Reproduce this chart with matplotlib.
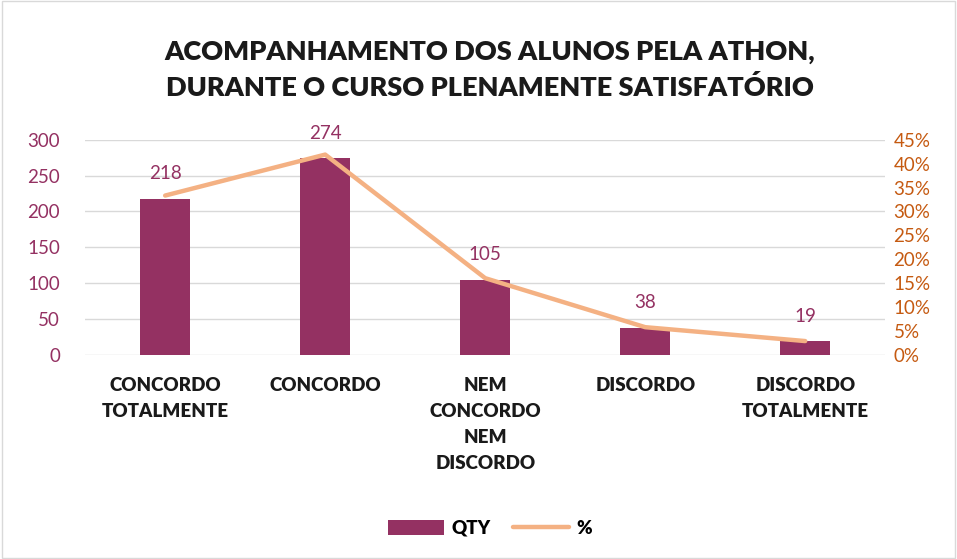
import matplotlib.pyplot as plt
from matplotlib.ticker import PercentFormatter
from matplotlib.patches import Rectangle

categorias = ['CONCORDO\nTOTALMENTE', 'CONCORDO', 'NEM\nCONCORDO\nNEM\nDISCORDO',
              'DISCORDO', 'DISCORDO\nTOTALMENTE']
qty = [218, 274, 105, 38, 19]
total = sum(qty)
pct = [q / total for q in qty]

cor_barra = '#943162'
cor_linha = '#F4B183'
cor_pct = '#C55A11'

plt.rcParams['font.family'] = ['Lato', 'DejaVu Sans']

fig = plt.figure(figsize=(9.57, 5.59), dpi=100)
fig.patches.append(Rectangle((0.002, 0.002), 0.996, 0.996, transform=fig.transFigure,
                             fill=False, edgecolor='#D9D9D9', linewidth=1))
ax = fig.add_axes([0.089, 0.365, 0.836, 0.385])
x = list(range(len(qty)))

ax.bar(x, qty, width=0.31, color=cor_barra, zorder=2, label='QTY')
for xi, q in zip(x, qty):
    ax.annotate(str(q), (xi, q), xytext=(0, 12), textcoords='offset points',
                ha='center', va='bottom', color=cor_barra, fontsize=13.5)

ax.set_ylim(0, 300)
ax.set_yticks(range(0, 301, 50))
ax.set_xlim(-0.5, 4.5)
ax.grid(axis='y', color='#D9D9D9', linewidth=1, zorder=0)
ax.set_axisbelow(True)
for s in ax.spines.values():
    s.set_visible(False)
ax.tick_params(axis='y', length=0, pad=18, labelsize=13.5, labelcolor=cor_barra)
ax.tick_params(axis='x', length=0, pad=16)
ax.set_xticks(x)
ax.set_xticklabels(categorias, fontsize=13.5, fontweight='heavy', color='#1a1a1a',
                   linespacing=1.65, va='top')

ax2 = ax.twinx()
ax2.plot(x, pct, color=cor_linha, linewidth=3.2, solid_capstyle='round', zorder=3, label='%')
ax2.set_ylim(0, 0.45)
ax2.set_yticks([i * 0.05 for i in range(10)])
ax2.yaxis.set_major_formatter(PercentFormatter(1.0, decimals=0))
ax2.tick_params(axis='y', length=0, pad=6, labelsize=13.5, labelcolor=cor_pct)
for s in ax2.spines.values():
    s.set_visible(False)

fig.text(0.512, 0.875, 'ACOMPANHAMENTO DOS ALUNOS PELA ATHON,\nDURANTE O CURSO PLENAMENTE SATISFATÓRIO',
         ha='center', va='center', fontsize=19.5, fontweight='heavy', color='#1a1a1a',
         linespacing=1.5)

h1, l1 = ax.get_legend_handles_labels()
h2, l2 = ax2.get_legend_handles_labels()
leg = fig.legend(h1 + h2, l1 + l2, loc='center', bbox_to_anchor=(0.512, 0.055), ncol=2,
                 frameon=False, handlelength=3.0, handleheight=0.9, handletextpad=0.4,
                 columnspacing=1.2, prop={'weight': 'heavy', 'size': 13.5})

fig.savefig('out.png', dpi=100)
